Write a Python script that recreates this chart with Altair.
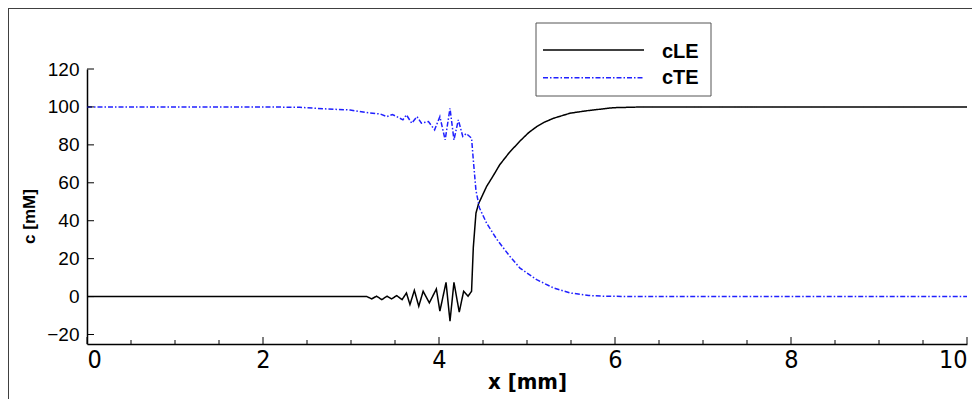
import altair as alt
import pandas as pd

# ---- data ----
series = ["cLE", "cTE"]

x_le = [0, 1, 2, 3, 3.18, 3.235, 3.29, 3.35, 3.41, 3.46, 3.52, 3.58, 3.63, 3.67,
        3.72, 3.77, 3.82, 3.89, 3.97, 4.01, 4.08, 4.125, 4.17, 4.23, 4.28, 4.33,
        4.37, 4.39, 4.42, 4.45, 4.50, 4.54, 4.62, 4.69, 4.80, 4.92, 5.02, 5.11,
        5.20, 5.30, 5.49, 5.68, 5.98, 6.32, 7, 8, 9, 10]
c_le = [0, 0, 0, 0, 0, -1.2, 0.2, -1.6, 0.2, -1.2, 0.5, -1.6, 1.9, -4.2,
        3.3, -5.1, 2.8, -3.3, 4.0, -7.7, 7.5, -13, 7.5, -8.2, 2.8, 0.2,
        2.8, 26, 44, 49, 54, 58, 64, 69.5, 76, 82, 86.5, 89.6,
        92, 94, 96.7, 98, 99.6, 100, 100, 100, 100, 100]

x_te = [0, 1, 2, 2.42, 2.7, 2.99, 3.18, 3.33, 3.41, 3.47, 3.52, 3.59, 3.63,
        3.69, 3.75, 3.80, 3.88, 3.95, 4.01, 4.07, 4.125, 4.17, 4.22, 4.27,
        4.31, 4.37, 4.39, 4.42, 4.46, 4.54, 4.66, 4.80, 4.92, 5.11, 5.30,
        5.49, 5.70, 5.87, 6.25, 7, 8, 9, 10]
c_te = [100, 100, 100, 99.8, 99, 98.4, 97, 96.3, 94.9, 96, 94.9, 93.2, 95.8,
        91.4, 94.9, 91.4, 92.3, 87.9, 94.9, 82.6, 99.3, 82.6, 93.2, 84.4,
        86, 83.5, 72, 56, 46.7, 38.8, 30, 21.5, 15, 8.9, 4.6,
        1.9, 0.6, 0.2, 0, 0, 0, 0, 0]

y_ticks = [-20, 0, 20, 40, 60, 80, 100, 120]
x_major = [0, 2, 4, 6, 8, 10]
x_minor = [0.5, 1, 1.5, 2.5, 3, 3.5, 4.5, 5, 5.5, 6.5, 7, 7.5, 8.5, 9, 9.5]

df = pd.concat([
    pd.DataFrame({"x": x_le, "c": c_le, "series": series[0]}),
    pd.DataFrame({"x": x_te, "c": c_te, "series": series[1]}),
])

FONT = "Liberation Sans"
NARROW = "DejaVu Sans Condensed, Liberation Sans"
W, H = 880, 275
BLUE = "#2020ff"
DASH = [5, 2, 1.5, 2]

xs = alt.Scale(domain=[0, 10], nice=False, zero=False)
ys = alt.Scale(domain=[-25, 120], nice=False, zero=False)

x_axis = alt.Axis(
    values=x_major, ticks=False, grid=False, labelPadding=3,
    labelFontSize=25, labelFont=NARROW, labelColor="black",
    domainColor="black", domainWidth=1.5,
    title="x [mm]", titleFont=NARROW, titleFontSize=22, titleFontWeight="bold",
    titleColor="black", titleY=37, titleBaseline="middle")
y_axis = alt.Axis(
    values=y_ticks, ticks=False, grid=False, labelPadding=8,
    labelFontSize=19, labelFont=FONT, labelColor="black",
    domainColor="black", domainWidth=1.5,
    title="c [mM]", titleFont=FONT, titleFontSize=17, titleFontWeight="bold",
    titleColor="black", titleAngle=270, titleX=-58, titleY=147,
    titleAlign="center", titleBaseline="middle")

lines = alt.Chart(df).mark_line(strokeWidth=1.5).encode(
    x=alt.X("x:Q", scale=xs, axis=x_axis),
    y=alt.Y("c:Q", scale=ys, axis=y_axis),
    color=alt.Color("series:N", scale=alt.Scale(domain=series, range=["black", BLUE]), legend=None),
    strokeDash=alt.StrokeDash("series:N", scale=alt.Scale(domain=series, range=[[1, 0], DASH]), legend=None),
)

ytick_layer = alt.Chart(pd.DataFrame({"c": y_ticks})).mark_rule(color="black", strokeWidth=1).encode(
    y=alt.Y("c:Q", scale=ys, axis=y_axis), x=alt.value(0), x2=alt.value(7))
xmajor_layer = alt.Chart(pd.DataFrame({"x": x_major})).mark_rule(color="black", strokeWidth=1).encode(
    x=alt.X("x:Q", scale=xs, axis=x_axis), y=alt.value(H), y2=alt.value(H - 7))
xminor_layer = alt.Chart(pd.DataFrame({"x": x_minor})).mark_rule(color="black", strokeWidth=1).encode(
    x=alt.X("x:Q", scale=xs, axis=x_axis), y=alt.value(H), y2=alt.value(H - 4))

one = pd.DataFrame({"a": [0]})
# outer frame (top and left edges of the picture frame)
frame_top = alt.Chart(one).mark_rule(color="#404040", strokeWidth=1).encode(
    x=alt.value(-79), x2=alt.value(885), y=alt.value(-60.5))
frame_left = alt.Chart(one).mark_rule(color="#404040", strokeWidth=1).encode(
    x=alt.value(-78.5), y=alt.value(-61), y2=alt.value(340))

# legend box
leg_box = alt.Chart(one).mark_rect(fill="white", stroke="#555555", strokeWidth=1).encode(
    x=alt.value(449), x2=alt.value(624), y=alt.value(-46), y2=alt.value(27))
leg_l1 = alt.Chart(one).mark_rule(color="black", strokeWidth=1.5).encode(
    x=alt.value(456), x2=alt.value(557), y=alt.value(-19))
leg_l2 = alt.Chart(one).mark_rule(color=BLUE, strokeWidth=1.5, strokeDash=DASH).encode(
    x=alt.value(456), x2=alt.value(557), y=alt.value(8.7))
leg_t1 = alt.Chart(one).mark_text(font=FONT, fontSize=20, fontWeight="bold", align="left",
                                   baseline="alphabetic", color="black").encode(
    x=alt.value(575), y=alt.value(-10.7), text=alt.value(series[0]))
leg_t2 = alt.Chart(one).mark_text(font=FONT, fontSize=20, fontWeight="bold", align="left",
                                   baseline="alphabetic", color="black").encode(
    x=alt.value(575), y=alt.value(15), text=alt.value(series[1]))

chart = alt.layer(
    lines, ytick_layer, xmajor_layer, xminor_layer, frame_top, frame_left,
    leg_box, leg_l1, leg_l2, leg_t1, leg_t2,
).properties(
    width=W, height=H,
    autosize=alt.AutoSizeParams(type="none"),
    padding={"left": 79, "top": 61, "right": 5, "bottom": 55},
    background="white",
).configure_view(stroke=None)

chart.save("out.html", embed_options={"renderer": "svg", "actions": False})
